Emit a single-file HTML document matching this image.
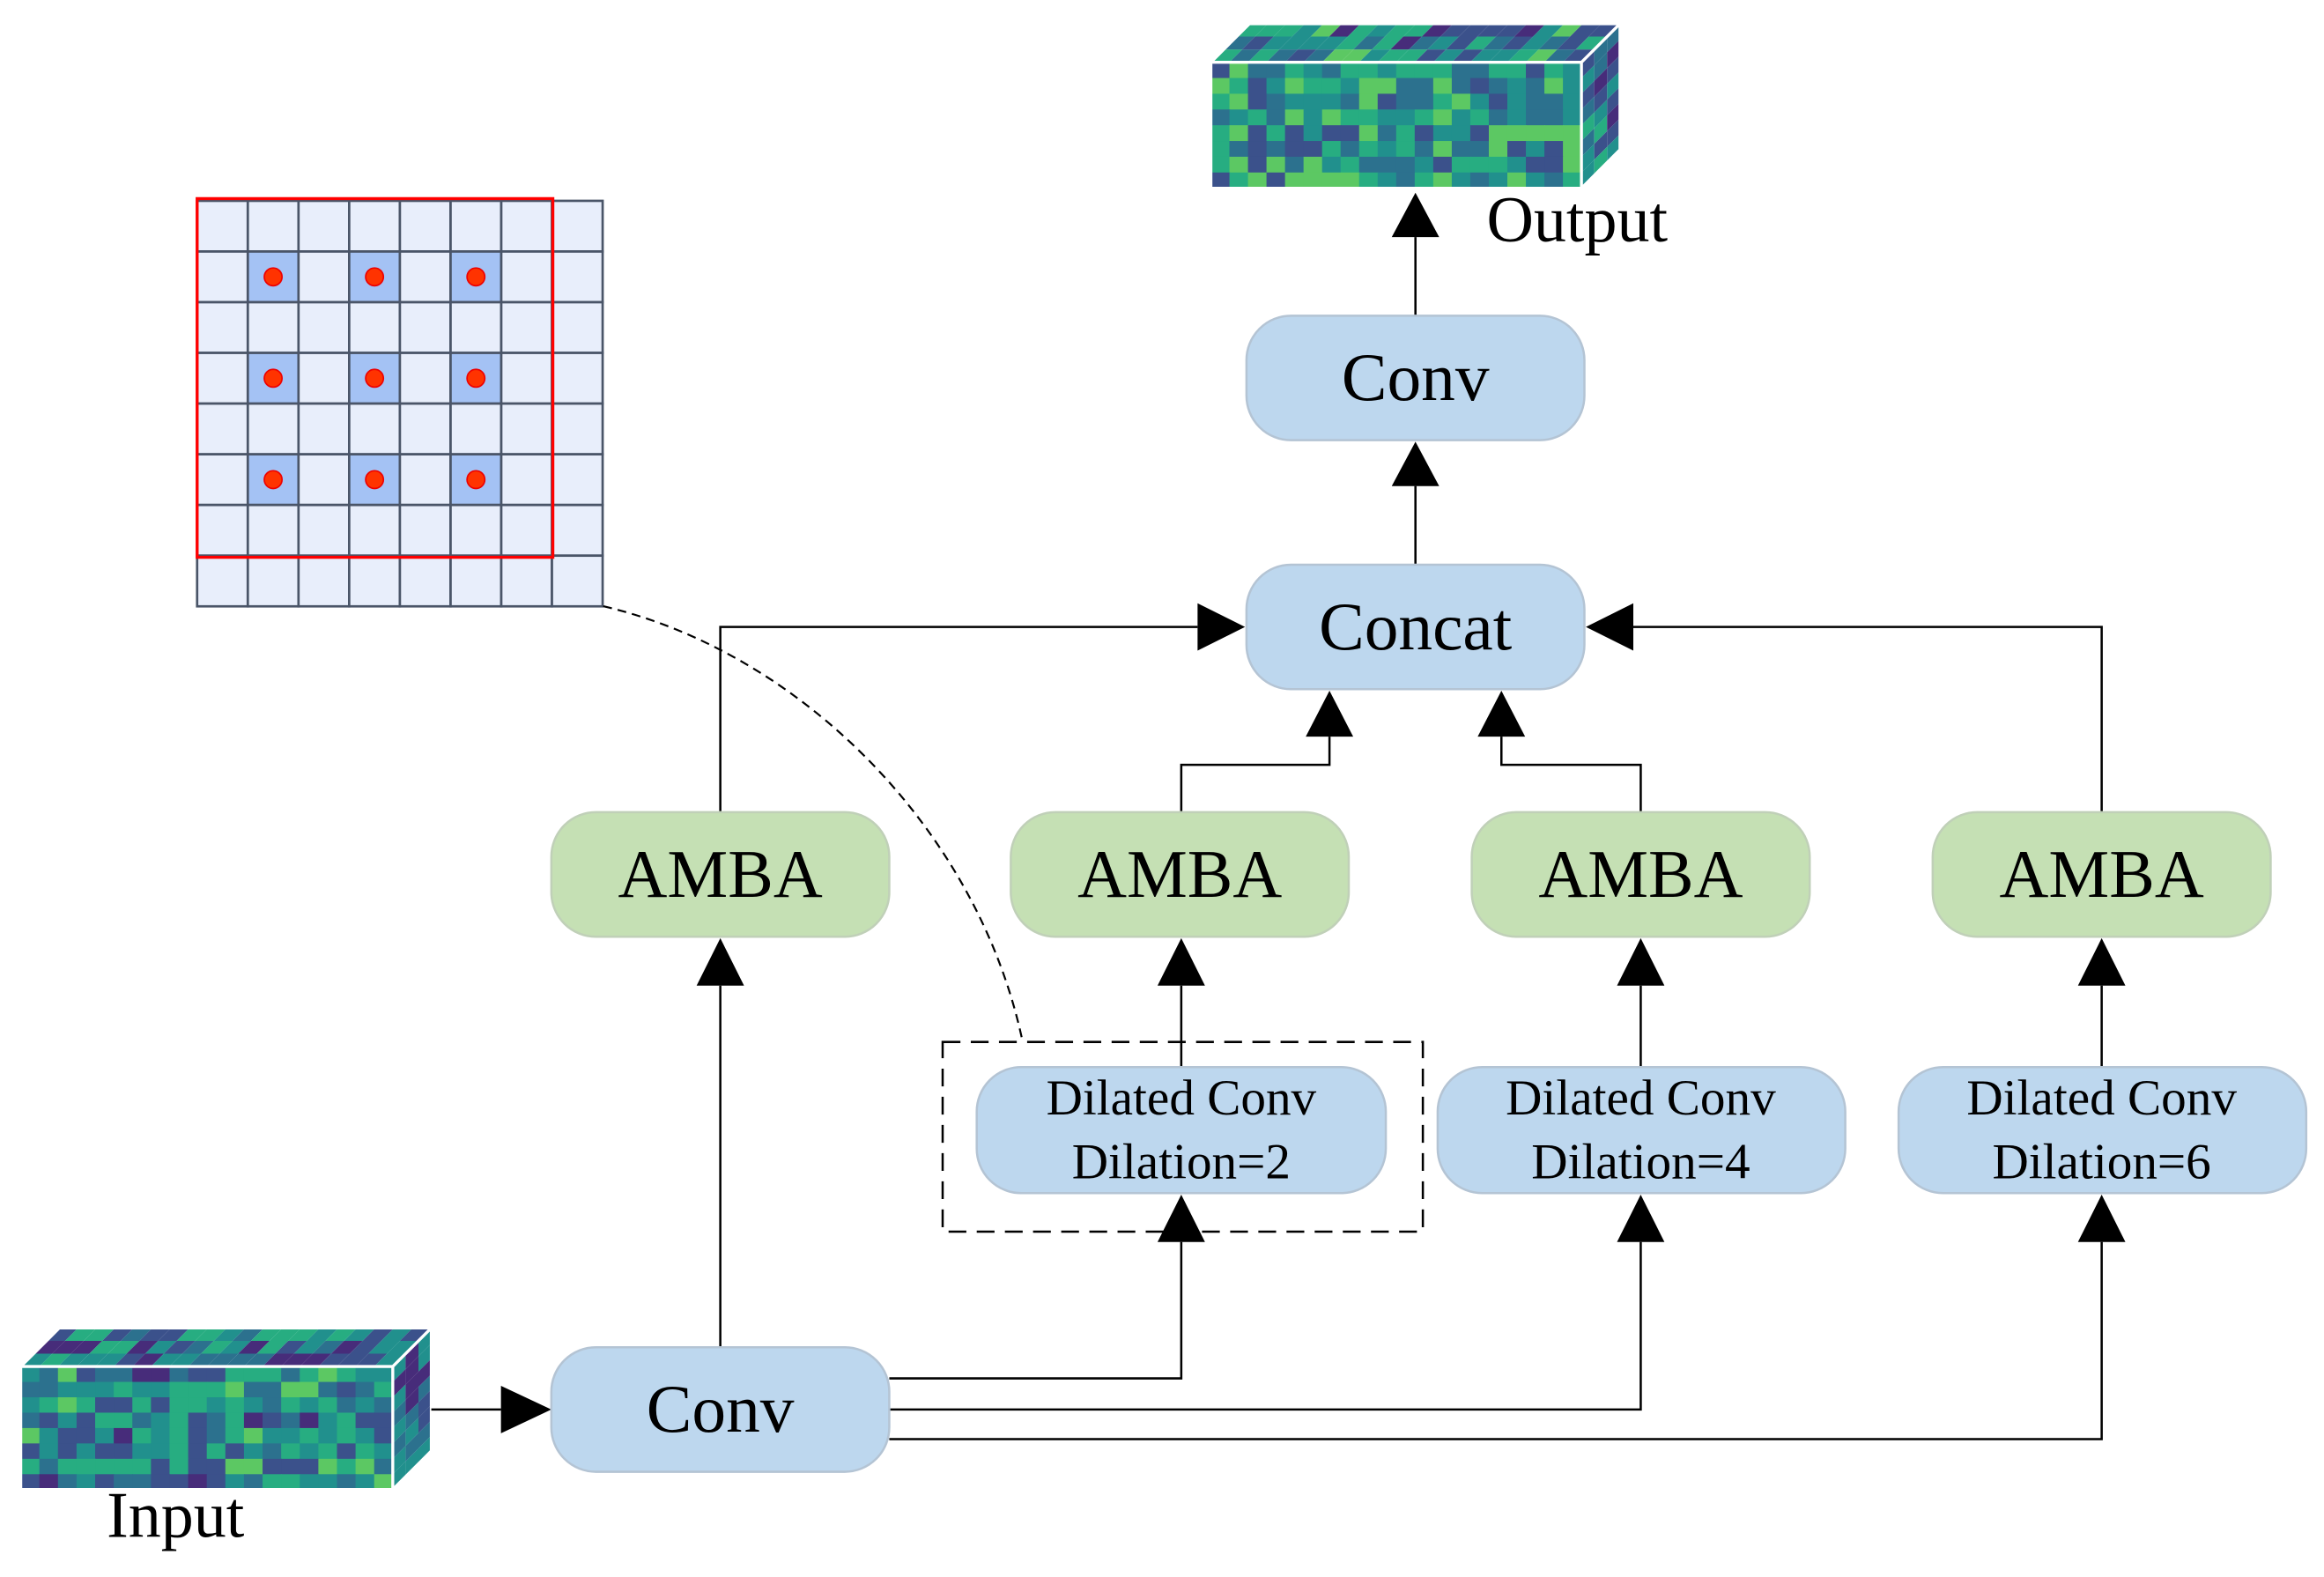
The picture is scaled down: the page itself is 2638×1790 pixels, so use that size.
<!DOCTYPE html>
<html><head><meta charset="utf-8"><style>html,body{margin:0;padding:0;background:#fff}svg{display:block}</style></head>
<body>
<svg id="s" width="2638" height="1790" viewBox="0 0 1568 1064" preserveAspectRatio="none" xmlns="http://www.w3.org/2000/svg" font-family="Liberation Serif, serif">
<defs>
<marker id="a" viewBox="0 0 10 10" refX="10" refY="5" markerWidth="10" markerHeight="10" markerUnits="userSpaceOnUse" orient="auto"><path d="M0,0L10,5L0,10z"/></marker>
</defs>
<g id="hm"></g>
<!-- grid -->
<g id="grid"></g>
<path d="M407,409 C540,440 660,560 690,703" fill="none" stroke="#000" stroke-width="1.3" stroke-dasharray="6,4"/>
<rect x="636" y="703" width="324" height="128" fill="none" stroke="#000" stroke-width="1.5" stroke-dasharray="12,7"/>
<g stroke="#000" stroke-width="1.5" fill="none">
<path d="M955,213V160"/><path d="M955,381V328"/>
<path d="M486,548V423H808"/><path d="M1418,548V423H1102"/>
<path d="M797,548V516H897V497"/><path d="M1107,548V516H1013V497"/>
<path d="M797,720V665"/><path d="M1107,720V665"/><path d="M1418,720V665"/>
<path d="M486,909V665"/>
<path d="M600,930H797V838"/><path d="M600,951H1107V838"/><path d="M600,971H1418V838"/>
<path d="M291,951H338"/>
</g>
<g fill="#000">
<path d="M939,160L955,130L971,160z"/><path d="M939,328L955,298L971,328z"/>
<path d="M808,407L840,423L808,439z"/><path d="M1102,407L1070,423L1102,439z"/>
<path d="M881,497L897,466L913,497z"/><path d="M997,497L1013,466L1029,497z"/>
<path d="M781,665L797,633L813,665z"/><path d="M1091,665L1107,633L1123,665z"/><path d="M1402,665L1418,633L1434,665z"/>
<path d="M470,665L486,633L502,665z"/>
<path d="M781,838L797,806L813,838z"/><path d="M1091,838L1107,806L1123,838z"/><path d="M1402,838L1418,806L1434,838z"/>
<path d="M338,935L372,951L338,967z"/>
</g>
<g stroke="#b4c4d4" stroke-width="1.5">
<rect x="841" y="213" width="228" height="84" rx="30" fill="#bdd7ee"/>
<rect x="841" y="381" width="228" height="84" rx="30" fill="#bdd7ee"/>
<rect x="372" y="909" width="228" height="84" rx="30" fill="#bdd7ee"/>
<rect x="659" y="720" width="276" height="85" rx="30" fill="#bdd7ee"/>
<rect x="970" y="720" width="275" height="85" rx="30" fill="#bdd7ee"/>
<rect x="1281" y="720" width="275" height="85" rx="30" fill="#bdd7ee"/>
</g>
<g stroke="#c0d0b8" stroke-width="1.5" fill="#c5e0b4">
<rect x="372" y="548" width="228" height="84" rx="30"/>
<rect x="682" y="548" width="228" height="84" rx="30"/>
<rect x="993" y="548" width="228" height="84" rx="30"/>
<rect x="1304" y="548" width="228" height="84" rx="30"/>
</g>
<g text-anchor="middle" font-size="46" fill="#000">
<text x="955" y="270">Conv</text><text x="955" y="438">Concat</text><text x="486" y="966">Conv</text>
<text x="486" y="605">AMBA</text><text x="796" y="605">AMBA</text><text x="1107" y="605">AMBA</text><text x="1418" y="605">AMBA</text>
</g>
<g text-anchor="middle" font-size="34" fill="#000">
<text x="797" y="752">Dilated Conv</text><text x="797" y="795">Dilation=2</text>
<text x="1107" y="752">Dilated Conv</text><text x="1107" y="795">Dilation=4</text>
<text x="1418" y="752">Dilated Conv</text><text x="1418" y="795">Dilation=6</text>
</g>
<text x="1003" y="163" font-size="44">Output</text>
<text x="72" y="1037" font-size="44">Input</text>
</svg>
<script>
var NS="http://www.w3.org/2000/svg";
function el(p,t,a){var e=document.createElementNS(NS,t);for(var k in a)e.setAttribute(k,a[k]);p.appendChild(e);return e;}
var g=document.getElementById('grid');
var s=34.2,x0=133,y0=135.5;
for(var r=0;r<8;r++)for(var c=0;c<8;c++){
 var hi=(r==1||r==3||r==5)&&(c==1||c==3||c==5);
 el(g,'rect',{x:x0+c*s,y:y0+r*s,width:s,height:s,fill:hi?'#a4c2f4':'#e8eefb',stroke:'#4a5568','stroke-width':1.6});
 if(hi)el(g,'circle',{cx:x0+c*s+s/2,cy:y0+r*s+s/2,r:6,fill:'#ff3300',stroke:'#e00','stroke-width':1});
}
el(g,'rect',{x:133,y:134,width:240,height:242,fill:'none',stroke:'#f00','stroke-width':2});
var seed=7;function rnd(){seed=(seed*16807)%2147483647;return seed/2147483647;}
var vir=['#440154','#472c7a','#3b518b','#2c718e','#21908d','#27ad81','#5cc863','#aadc32','#fde725'];
function pick(b){var v=b+rnd()*0.5-0.25;v=Math.max(0,Math.min(0.999,v));return vir[Math.floor(v*vir.length)];}
var h=document.getElementById('hm');
function cube(x,y,w,hh,d,base){
 var cols=20,rows=8,cw=w/cols,ch=hh/rows;
 for(var r=0;r<rows;r++)for(var c=0;c<cols;c++)el(h,'rect',{x:x+c*cw,y:y+r*ch,width:cw+0.5,height:ch+0.5,fill:pick(base)});
 for(var i=0;i<3;i++)for(var c=0;c<cols;c++){var f=pick(base-0.05);var x1=x+c*cw+i*d/3,y1=y-i*d/3;
  el(h,'path',{d:'M'+x1+','+y1+'l'+cw+',0l'+(d/3)+','+(-d/3)+'l'+(-cw)+',0z',fill:f});}
 for(var i=0;i<3;i++)for(var r=0;r<rows;r++){var x1=x+w+i*d/3,y1=y+r*ch-i*d/3;
  el(h,'path',{d:'M'+x1+','+y1+'l'+(d/3)+','+(-d/3)+'l0,'+ch+'l'+(-d/3)+','+(d/3)+'z',fill:pick(base-0.1)});}
 el(h,'path',{d:'M'+x+','+y+'h'+w+'v'+hh+'h'+(-w)+'z M'+(x+w)+','+y+'l'+d+','+(-d)+' M'+x+','+y+'l'+d+','+(-d)+'h'+w+'v'+hh+'l'+(-d)+','+d,fill:'none',stroke:'#fff','stroke-width':2});
}
cube(817,42,250,85,26,0.5);
cube(14,922,251,83,26,0.45);
</script>
</body></html>
